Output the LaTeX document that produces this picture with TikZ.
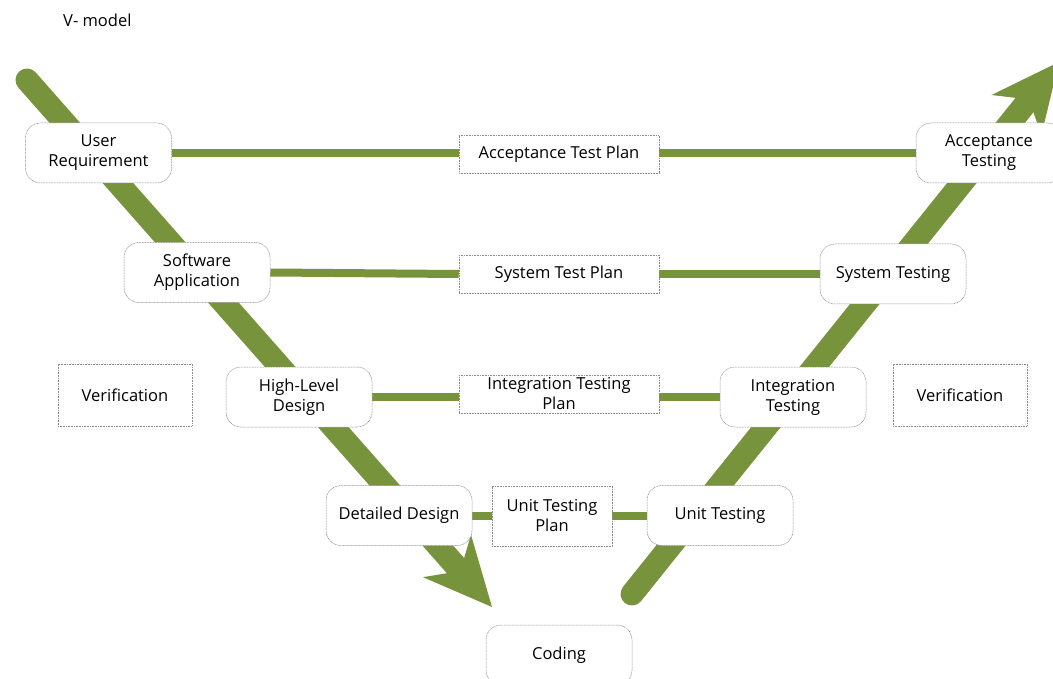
\documentclass[tikz,border=0pt]{standalone}
\usepackage{fontspec}
\setmainfont{Open Sans}
\usetikzlibrary{arrows.meta,backgrounds,positioning}
\definecolor{vgreen}{HTML}{77933C}
\definecolor{boxline}{HTML}{8C8C8C}
\tikzset{
  phase/.style={draw=boxline,line width=0.5pt,dash pattern=on 1pt off 0.6pt,
    rounded corners=15pt,fill=white,align=center,
    minimum width=146pt,minimum height=60pt,inner sep=2pt},
  plan/.style={draw=boxline,line width=0.5pt,dash pattern=on 1pt off 0.6pt,
    fill=white,align=center,minimum width=200pt,minimum height=38pt,inner sep=2pt},
  link/.style={vgreen,line width=8pt},
  vline/.style={vgreen,line width=23pt,line cap=round,
    -{Stealth[length=68pt,width=64pt,inset=20pt,line width=0pt]}}
}

\begin{document}
\begin{tikzpicture}[x=1pt,y=-1pt,font=\fontsize{16.5}{20}\selectfont]
  \useasboundingbox (0,0) rectangle (1053,679);
  \node[anchor=west,inner sep=0pt] (title) at (63,20) {V- model};

  % left side of the V
  \node[phase] (user) at (98.5,153) {User\\Requirement};
  \node[phase] (soft) at (197,272.5) {Software\\Application};
  \node[phase] (high) at (299,397) {High-Level\\Design};
  \node[phase] (detail) at (399,515.5) {Detailed Design};
  \node[phase] (coding) at (559,655) {Coding};

  % right side of the V
  \node[phase] (unit) at (720,515.5) {Unit Testing};
  \node[phase] (integ) at (793,397) {Integration\\Testing};
  \node[phase] (system) at (893,274) {System Testing};
  \node[phase] (accept) at (989,153) {Acceptance\\Testing};

  % plans
  \node[plan] (accplan) at (559,154.5) {Acceptance Test Plan};
  \node[plan] (sysplan) at (559,274) {System Test Plan};
  \node[plan] (intplan) at (559,394) {Integration Testing\\Plan};
  \node[plan,minimum width=120pt,minimum height=60pt] (unitplan) at (552,516) {Unit Testing\\Plan};

  \node[plan,minimum width=134pt,minimum height=62pt] (verl) at (125,395) {Verification};
  \node[plan,minimum width=134pt,minimum height=62pt] (verr) at (960,395) {Verification};

  \begin{scope}[on background layer]
    \coordinate (ls) at (27,80);
    \coordinate (le) at (492,607);
    \coordinate (rs) at (632,594);
    \coordinate (re) at (1059,62);
    \draw[vline] (ls) -- (le);
    \draw[vline] (rs) -- (re);

    \draw[link] (user.east) -- (user.east -| accplan.west);
    \draw[link] (accept.west -| accplan.east) -- (accept.west);
    \draw[link] (soft.east) -- (sysplan.west);
    \draw[link] (sysplan.east) -- (system.west);
    \draw[link] (high.east) -- (high.east -| intplan.west);
    \draw[link] (integ.west -| intplan.east) -- (integ.west);
    \draw[link] (detail.east) -- (detail.east -| unitplan.west);
    \draw[link] (unit.west -| unitplan.east) -- (unit.west);
  \end{scope}
\end{tikzpicture}
\end{document}
